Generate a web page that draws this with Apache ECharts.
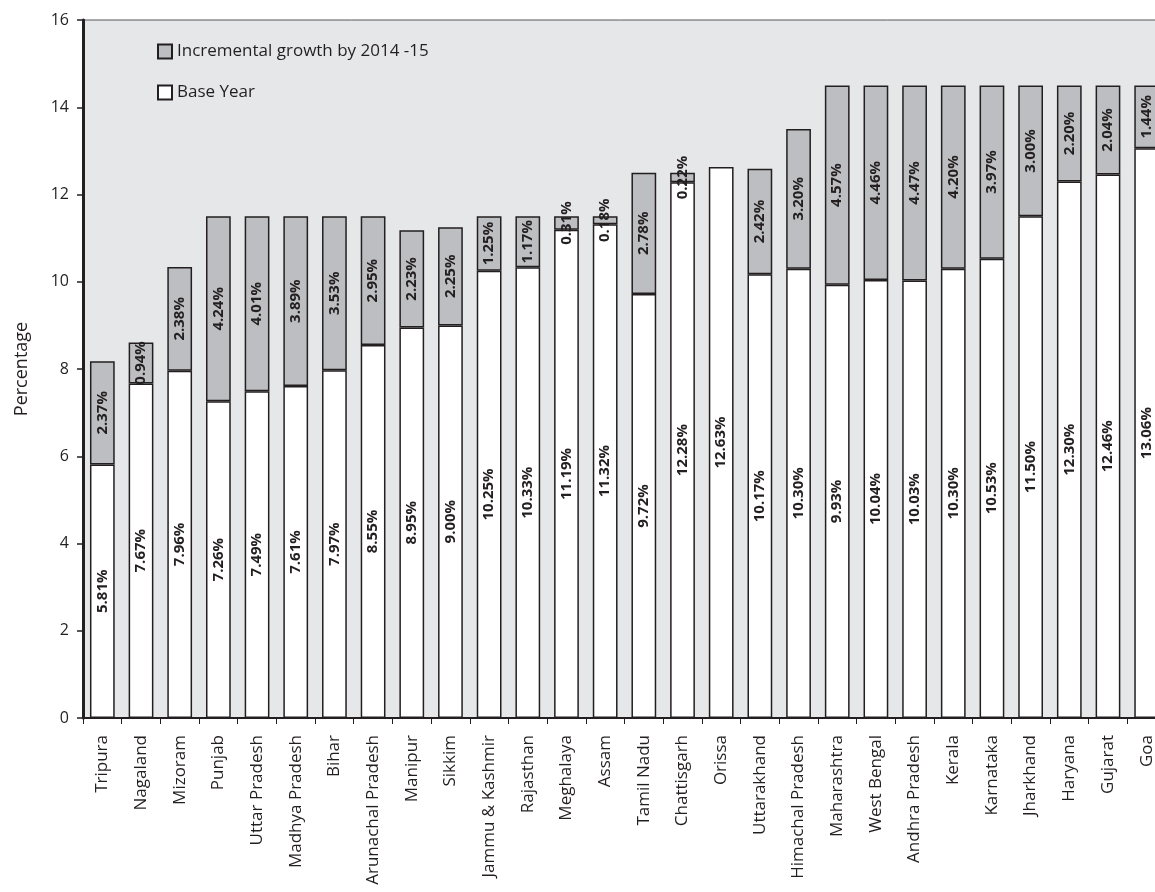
<!DOCTYPE html>
<html>
<head>
<meta charset="utf-8">
<script src="https://cdn.jsdelivr.net/npm/echarts@6/dist/echarts.min.js"></script>
<style>html,body{margin:0;padding:0;background:#fff;}#c{width:1155px;height:892px;}</style>
</head>
<body>
<div id="c"></div>
<script>
const categories = ['Tripura','Nagaland','Mizoram','Punjab','Uttar Pradesh','Madhya Pradesh','Bihar','Arunachal Pradesh','Manipur','Sikkim','Jammu & Kashmir','Rajasthan','Meghalaya','Assam','Tamil Nadu','Chattisgarh','Orissa','Uttarakhand','Himachal Pradesh','Maharashtra','West Bengal','Andhra Pradesh','Kerala','Karnataka','Jharkhand','Haryana','Gujarat','Goa'];
const baseYear = [5.81,7.67,7.96,7.26,7.49,7.61,7.97,8.55,8.95,9.00,10.25,10.33,11.19,11.32,9.72,12.28,12.63,10.17,10.30,9.93,10.04,10.03,10.30,10.53,11.50,12.30,12.46,13.06];
const increment = [2.37,0.94,2.38,4.24,4.01,3.89,3.53,2.95,2.23,2.25,1.25,1.17,0.31,0.18,2.78,0.22,null,2.42,3.20,4.57,4.46,4.47,4.20,3.97,3.00,2.20,2.04,1.44];
const yTicks = [0,2,4,6,8,10,12,14,16];

const txt = '#231f20';
const font = '"Open Sans", sans-serif';
const chart = echarts.init(document.getElementById('c'));
const lbl = {
  show: true, position: 'inside', rotate: 90, color: txt, fontFamily: font,
  fontWeight: 'bold', fontSize: 15,
  formatter: p => (p.value == null ? '' : p.value.toFixed(2) + '%')
};
chart.setOption({
  animation: false,
  textStyle: { fontFamily: font, color: txt },
  grid: { left: 83, width: 1083, top: 20, height: 698, outerBoundsMode: 'none', containLabel: false,
    show: true, backgroundColor: '#e6e7e8', borderColor: '#58595b', borderWidth: 1 },
  legend: {
    orient: 'vertical', left: 152, top: 38, itemGap: 24, itemWidth: 14, itemHeight: 14, icon: 'rect',
    textStyle: { fontSize: 17, color: txt, fontFamily: font },
    data: ['Incremental growth by 2014 -15', 'Base Year']
  },
  xAxis: {
    type: 'category', data: categories,
    axisLine: { lineStyle: { color: txt, width: 2 } },
    axisTick: { show: true, alignWithLabel: false, length: 6, lineStyle: { color: txt } },
    axisLabel: { rotate: 90, fontSize: 17, color: txt, margin: 17, interval: 0, fontFamily: font }
  },
  yAxis: {
    type: 'value', min: 0, max: 16, interval: 2,
    name: 'Percentage', nameLocation: 'middle', nameGap: 52, nameRotate: 90,
    nameTextStyle: { fontSize: 18, color: txt, fontFamily: font },
    axisLine: { show: true, lineStyle: { color: txt, width: 3 } },
    axisTick: { show: true, length: 6, lineStyle: { color: txt, width: 1.5 } },
    axisLabel: { fontSize: 16, color: txt, margin: 14, fontFamily: font,
      formatter: v => yTicks.includes(v) ? String(v) : '' },
    splitLine: { show: false }
  },
  series: [
    {
      name: 'Base Year', type: 'bar', stack: 'total', data: baseYear,
      barCategoryGap: '36%',
      itemStyle: { color: '#ffffff', borderColor: txt, borderWidth: 1.5 },
      label: lbl
    },
    {
      name: 'Incremental growth by 2014 -15', type: 'bar', stack: 'total', data: increment,
      itemStyle: { color: '#bdbec1', borderColor: txt, borderWidth: 1.5 },
      label: lbl
    }
  ]
});
</script>
</body>
</html>
